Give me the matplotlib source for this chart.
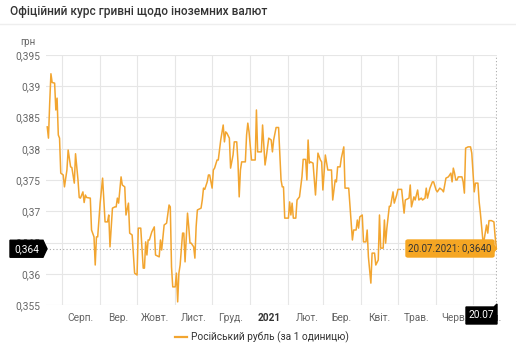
import numpy as np
import matplotlib
matplotlib.use("Agg")
import matplotlib.pyplot as plt
from matplotlib.patches import Polygon, FancyBboxPatch
from matplotlib.lines import Line2D

plt.rcParams['font.family'] = ['Roboto', 'DejaVu Sans']

# ---- data ----
start_date = '2020-07-20'
day_offset = [0, 1, 2, 3, 4, 6, 7, 8, 9, 10, 11, 13, 14, 16, 17, 19, 20, 22, 23, 25,
              26, 27, 29, 30, 31, 32, 35, 36, 38, 39, 40, 41, 43, 45, 46, 47, 49, 50, 51, 53,
              55, 56, 57, 58, 60, 61, 63, 64, 66, 67, 69, 71, 73, 74, 76, 78, 79, 80, 81, 82,
              83, 85, 87, 88, 91, 92, 93, 95, 97, 99, 100, 101, 102, 104, 105, 106, 107, 108, 110, 111,
              112, 114, 115, 116, 117, 119, 120, 121, 122, 125, 126, 127, 128, 130, 131, 132, 134, 135, 136, 138,
              139, 140, 141, 143, 144, 145, 146, 148, 149, 151, 152, 154, 155, 156, 157, 158, 161, 162, 163, 164,
              166, 169, 170, 171, 174, 175, 177, 178, 180, 182, 183, 184, 186, 188, 190, 191, 192, 193, 196, 197,
              198, 199, 200, 202, 203, 205, 207, 208, 210, 211, 212, 213, 214, 216, 218, 220, 222, 223, 224, 226,
              228, 231, 232, 234, 235, 236, 238, 239, 241, 242, 245, 248, 249, 251, 252, 253, 254, 256, 257, 259,
              260, 261, 263, 264, 266, 267, 269, 270, 271, 273, 274, 275, 276, 278, 279, 281, 282, 284, 285, 288,
              290, 291, 294, 295, 296, 298, 299, 301, 302, 304, 305, 307, 308, 309, 311, 313, 314, 316, 317, 319,
              321, 322, 324, 326, 328, 329, 330, 331, 332, 333, 334, 337, 338, 339, 340, 342, 344, 345, 347, 348,
              350, 351, 352, 354, 355, 357, 358, 359, 361, 363, 364, 365]
rate = [0.3835, 0.3817, 0.3873, 0.3920, 0.3906, 0.3905, 0.3862, 0.3881, 0.3822, 0.3817,
        0.3761, 0.3758, 0.3739, 0.3766, 0.3798, 0.3771, 0.3770, 0.3745, 0.3792, 0.3750,
        0.3722, 0.3721, 0.3731, 0.3714, 0.3726, 0.3722, 0.3721, 0.3670, 0.3659, 0.3614,
        0.3659, 0.3659, 0.3713, 0.3753, 0.3718, 0.3683, 0.3683, 0.3694, 0.3643, 0.3705,
        0.3707, 0.3707, 0.3721, 0.3713, 0.3755, 0.3742, 0.3739, 0.3694, 0.3713, 0.3665,
        0.3662, 0.3601, 0.3598, 0.3673, 0.3673, 0.3609, 0.3609, 0.3651, 0.3630, 0.3654,
        0.3654, 0.3667, 0.3675, 0.3630, 0.3627, 0.3654, 0.3638, 0.3678, 0.3681, 0.3710,
        0.3707, 0.3611, 0.3579, 0.3579, 0.3601, 0.3555, 0.3601, 0.3614, 0.3665, 0.3665,
        0.3619, 0.3697, 0.3675, 0.3649, 0.3649, 0.3643, 0.3625, 0.3675, 0.3702, 0.3705,
        0.3718, 0.3737, 0.3735, 0.3747, 0.3758, 0.3758, 0.3737, 0.3766, 0.3769, 0.3782,
        0.3782, 0.3798, 0.3814, 0.3838, 0.3811, 0.3827, 0.3825, 0.3817, 0.3769, 0.3790,
        0.3811, 0.3811, 0.3779, 0.3723, 0.3766, 0.3779, 0.3779, 0.3822, 0.3841, 0.3827,
        0.3782, 0.3782, 0.3862, 0.3795, 0.3795, 0.3838, 0.3774, 0.3787, 0.3817, 0.3814,
        0.3795, 0.3814, 0.3834, 0.3834, 0.3750, 0.3739, 0.3739, 0.3689, 0.3689, 0.3715,
        0.3694, 0.3713, 0.3689, 0.3689, 0.3718, 0.3723, 0.3755, 0.3783, 0.3783, 0.3750,
        0.3814, 0.3777, 0.3779, 0.3777, 0.3726, 0.3793, 0.3782, 0.3779, 0.3734, 0.3790,
        0.3766, 0.3766, 0.3718, 0.3750, 0.3747, 0.3771, 0.3771, 0.3785, 0.3803, 0.3737,
        0.3737, 0.3654, 0.3670, 0.3670, 0.3686, 0.3673, 0.3691, 0.3694, 0.3651, 0.3651,
        0.3670, 0.3627, 0.3585, 0.3633, 0.3633, 0.3614, 0.3622, 0.3694, 0.3641, 0.3641,
        0.3686, 0.3649, 0.3673, 0.3708, 0.3708, 0.3731, 0.3713, 0.3726, 0.3735, 0.3735,
        0.3697, 0.3718, 0.3721, 0.3742, 0.3707, 0.3723, 0.3718, 0.3734, 0.3718, 0.3721,
        0.3718, 0.3721, 0.3737, 0.3721, 0.3737, 0.3747, 0.3747, 0.3734, 0.3731, 0.3737,
        0.3734, 0.3731, 0.3753, 0.3755, 0.3761, 0.3747, 0.3769, 0.3761, 0.3750, 0.3750,
        0.3755, 0.3755, 0.3747, 0.3729, 0.3801, 0.3803, 0.3803, 0.3793, 0.3731, 0.3745,
        0.3745, 0.3715, 0.3697, 0.3654, 0.3654, 0.3678, 0.3665, 0.3685, 0.3685, 0.3683,
        0.3659, 0.3640]
month_starts = ['2020-08-01', '2020-09-01', '2020-10-01', '2020-11-01', '2020-12-01', '2021-01-01',
                '2021-02-01', '2021-03-01', '2021-04-01', '2021-05-01', '2021-06-01', '2021-07-01']
month_labels = ['Серп.', 'Вер.', 'Жовт.', 'Лист.', 'Груд.', '2021',
                'Лют.', 'Бер.', 'Квіт.', 'Трав.', 'Черв.', 'Лип.']
y_ticks = [0.355, 0.36, 0.365, 0.37, 0.375, 0.38, 0.385, 0.39, 0.395]
y_labels = ['0,355', '0,36', '0,365', '0,37', '0,375', '0,38', '0,385', '0,39', '0,395']
title = 'Офіційний курс гривні щодо іноземних валют'
unit = 'грн'
series_name = 'Російський рубль (за 1 одиницю)'
last_label = '20.07.2021: 0,3640'
last_short = '20.07'
last_value_label = '0,364'

# ---- figure ----
W, H = 516, 350
fig = plt.figure(figsize=(W / 100, H / 100), dpi=100)
fig.patch.set_facecolor('white')

def fx(x):
    return x / W

def fy(y):
    return 1 - y / H

L, R, T, B = 46, 497, 55, 305
ax = fig.add_axes([fx(L), fy(B), fx(R) - fx(L), fy(T) - fy(B)])

dates = np.datetime64(start_date) + np.array(day_offset).astype('timedelta64[D]')
line_color = '#F2A530'
ax.plot(dates, rate, color=line_color, lw=1.1, zorder=3)

x0 = dates[0] - np.timedelta64(1, 'D')
x1 = dates[-1] + np.timedelta64(12, 'h')
ax.set_xlim(x0, x1)
ax.set_ylim(0.355, 0.395)

grid_c = '#e6e6e6'
ms = np.array(month_starts, dtype='datetime64[D]')
for m in ms:
    ax.axvline(m, color=grid_c, lw=0.8, zorder=1)
ax.set_yticks(y_ticks)
ax.set_yticklabels(y_labels)
ax.yaxis.grid(True, color=grid_c, lw=0.8, zorder=1)
ax.set_axisbelow(True)
for s in ax.spines.values():
    s.set_visible(False)
ax.tick_params(axis='y', length=0, pad=4, labelsize=7.3, labelcolor='#666666')

# month labels at mid-month
mids = ms + np.timedelta64(15, 'D')
ax.set_xticks(mids)
ax.set_xticklabels(month_labels)
ax.tick_params(axis='x', length=0, pad=6, labelsize=7.3, labelcolor='#666666')
for lab in ax.get_xticklabels():
    if lab.get_text() == '2021':
        lab.set_fontweight('bold')
        lab.set_color('#333333')

# crosshairs
ax.axhline(rate[-1], color='#aaaaaa', lw=0.8, ls=(0, (1, 2)), zorder=2)
ax.axvline(dates[-1], color='#aaaaaa', lw=0.8, ls=(0, (1, 2)), zorder=2)

# title, separator, unit
fig.text(fx(10), fy(12), title, fontsize=8.6, fontweight='medium', color='#333333',
         ha='left', va='center')
fig.add_artist(Line2D([0, 1], [fy(24), fy(24)], color='#eeeeee', lw=1.0))
fig.text(fx(20), fy(42), unit, fontsize=7, color='#666666', ha='left', va='center')

# legend
fig.add_artist(Line2D([fx(175), fx(187)], [fy(337), fy(337)], color=line_color, lw=1.6))
fig.text(fx(191), fy(337), series_name, fontsize=7.3, color='#333333', ha='left', va='center')

# value label on y axis (black)
trans = ax.transData
disp = trans.transform((0, rate[-1]))
inv = fig.transFigure.inverted()
yv = inv.transform(disp)[1]
yv_px = (1 - yv) * H
poly = Polygon([[fx(10), fy(yv_px - 8.5)], [fx(43), fy(yv_px - 8.5)], [fx(47), yv],
                [fx(43), fy(yv_px + 8.5)], [fx(10), fy(yv_px + 8.5)]],
               closed=True, facecolor='black', edgecolor='black', transform=fig.transFigure, zorder=10)
fig.add_artist(poly)
fig.text(fx(26.5), yv, last_value_label, fontsize=7.3, color='white', ha='center', va='center', zorder=11)

# date label on x axis (black)
xd = inv.transform(trans.transform((np.datetime64(dates[-1]).astype('datetime64[D]').astype(float) if False else ax.get_xlim()[1], 0)))[0]
xd_px = xd * W
poly2 = Polygon([[fx(xd_px - 31), fy(307)], [fx(xd_px - 3), fy(307)], [fx(xd_px), fy(304)],
                 [fx(xd_px), fy(324)], [fx(xd_px - 31), fy(324)]],
                closed=True, facecolor='black', edgecolor='black', transform=fig.transFigure, zorder=10)
fig.add_artist(poly2)
fig.text(fx(xd_px - 15.5), fy(315.5), last_short, fontsize=7.3, color='white', ha='center', va='center', zorder=11)

# tooltip (orange)
tip_c = '#F5A623'
box = FancyBboxPatch((fx(406), fy(257)), fx(88), fy(240) - fy(257),
                     boxstyle='round,pad=0,rounding_size=0.004', facecolor=tip_c, edgecolor=tip_c,
                     transform=fig.transFigure, zorder=10)
fig.add_artist(box)
tri = Polygon([[fx(493), fy(244)], [fx(xd_px - 0.5), yv], [fx(493), fy(253)]], closed=True,
              facecolor=tip_c, edgecolor=tip_c, transform=fig.transFigure, zorder=10)
fig.add_artist(tri)
fig.text(fx(450), fy(248.5), last_label, fontsize=7, color='#333333', ha='center', va='center', zorder=11)

fig.savefig('out.png', dpi=100, facecolor='white')
